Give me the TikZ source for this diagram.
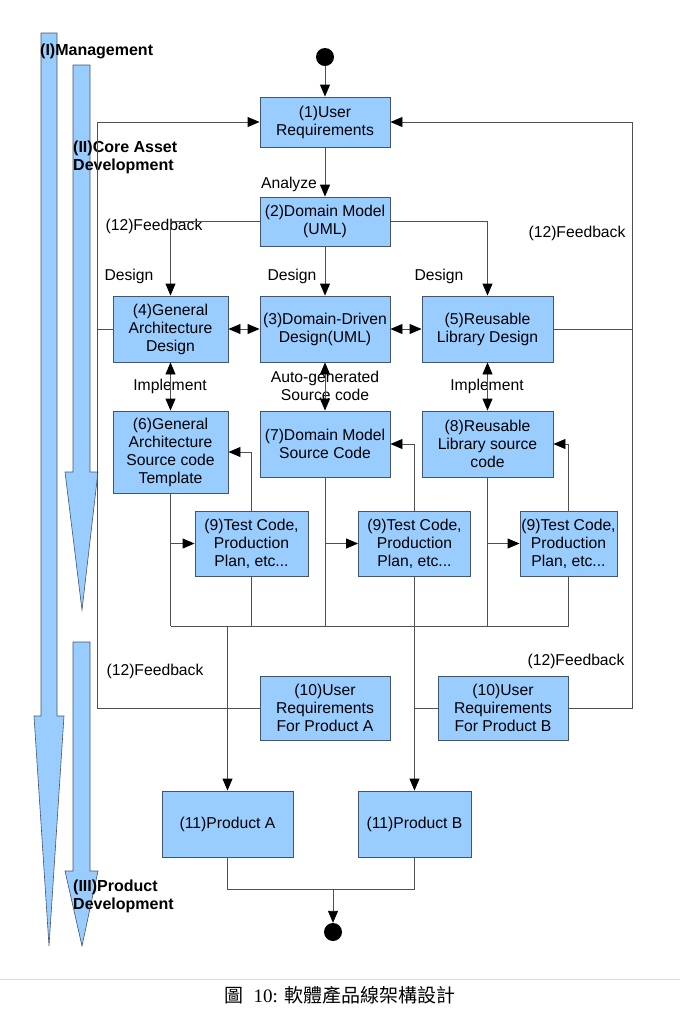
\documentclass[tikz,border=0pt]{standalone}
\usepackage{fontspec}
\setmainfont{Liberation Sans}
\newfontfamily\cjk{Noto Sans CJK TC}
\newfontfamily\capserif{Liberation Serif}
\usetikzlibrary{arrows.meta}
\definecolor{boxfill}{HTML}{99CCFF}
\definecolor{boxline}{HTML}{44546A}
\definecolor{connc}{HTML}{505050}
\tikzset{
  box/.style={draw=boxline, fill=boxfill, line width=0.9pt, align=center, inner sep=0pt,
              font=\fontsize{15.7}{18}\selectfont},
  conn/.style={draw=connc, line width=0.9pt},
  arr/.style={conn, -{Triangle[length=12pt,width=10pt,color=black]}},
  darr/.style={conn, {Triangle[length=12pt,width=10pt,color=black]}-{Triangle[length=12pt,width=10pt,color=black]}},
  lbl/.style={font=\fontsize{15.7}{18}\selectfont, align=center, inner sep=0pt},
  blbl/.style={font=\bfseries\fontsize{16}{18}\selectfont, align=left, inner sep=0pt, anchor=west},
  bigarrow/.style={draw=boxline, fill=boxfill, line width=0.6pt},
  dot/.style={circle, fill=black, minimum size=18pt, inner sep=0pt},
}
\begin{document}
\begin{tikzpicture}[x=1pt,y=-1pt]
\useasboundingbox (0,0) rectangle (680,1013);

% big process arrows
\draw[bigarrow] (41,33) -- (57,33) -- (57,716) -- (64,716) -- (49,946) -- (34,716) -- (41,716) -- cycle;
\draw[bigarrow] (73,65) -- (90,65) -- (90,472) -- (98,472) -- (82,610) -- (65,472) -- (73,472) -- cycle;
\draw[bigarrow] (73,642) -- (90,642) -- (90,871) -- (98,871) -- (82,946) -- (65,871) -- (73,871) -- cycle;

\node[blbl] (lI) at (40,51) {(I)Management};
\node[blbl] (lII) at (73,157) {(II)Core Asset\\Development};
\node[blbl] (lIII) at (73,896) {(III)Product\\Development};

% nodes
\node[dot] (s) at (325,57) {};
\node[box, minimum width=130pt, minimum height=50pt] (b1) at (325,122) {(1)User\\Requirements};
\node[box, minimum width=130pt, minimum height=49pt] (b2) at (325,221.5) {(2)Domain Model\\(UML)};
\node[box, minimum width=115pt, minimum height=66pt] (b4) at (170.5,329) {(4)General\\Architecture\\Design};
\node[box, minimum width=130pt, minimum height=66pt] (b3) at (325,329) {(3)Domain-Driven\\Design(UML)};
\node[box, minimum width=131pt, minimum height=66pt] (b5) at (487.5,329) {(5)Reusable\\Library Design};
\node[box, minimum width=115pt, minimum height=82pt] (b6) at (170.5,452) {(6)General\\Architecture\\Source code\\Template};
\node[box, minimum width=130pt, minimum height=66pt] (b7) at (325,444) {(7)Domain Model\\Source Code};
\node[box, minimum width=131pt, minimum height=66pt] (b8) at (487.5,444) {(8)Reusable\\Library source\\code};
\node[box, minimum width=113pt, minimum height=65pt] (b9a) at (251.5,543.5) {(9)Test Code,\\Production\\Plan, etc...};
\node[box, minimum width=112pt, minimum height=65pt] (b9b) at (414.5,543.5) {(9)Test Code,\\Production\\Plan, etc...};
\node[box, minimum width=97pt, minimum height=65pt] (b9c) at (568.5,543.5) {(9)Test Code,\\Production\\Plan, etc...};
\node[box, minimum width=130pt, minimum height=64pt] (b10a) at (325,708) {(10)User\\Requirements\\For Product A};
\node[box, minimum width=130pt, minimum height=64pt] (b10b) at (503,708) {(10)User\\Requirements\\For Product B};
\node[box, minimum width=131pt, minimum height=66pt] (pA) at (227.5,824) {(11)Product A};
\node[box, minimum width=113pt, minimum height=66pt] (pB) at (414.5,824) {(11)Product B};
\node[dot] (e) at (333,932) {};

% labels
\node[lbl] (tAn) at (289,184) {Analyze};
\node[lbl] (tF1) at (154,226) {(12)Feedback};
\node[lbl] (tF2) at (577,233) {(12)Feedback};
\node[lbl] (tD1) at (129,276) {Design};
\node[lbl] (tD2) at (292,276) {Design};
\node[lbl] (tD3) at (439,276) {Design};
\node[lbl] (tI1) at (170,386) {Implement};
\node[lbl] (tI2) at (487,386) {Implement};
\node[lbl] (tAG) at (325,386) {Auto-generated\\Source code};
\node[lbl] (tF3) at (155,671) {(12)Feedback};
\node[lbl] (tF4) at (576,661) {(12)Feedback};

% helper coordinates
\coordinate (FLt) at (97,122);
\coordinate (FRt) at (632,122);
\coordinate (bus) at (0,626);
\coordinate (J) at (333,889);

% connectors
\draw[arr] (s) -- (b1.north);
\draw[arr] (b1.south) -- (b2.north);
\draw[arr] (b2.west) -| (b4.north);
\draw[arr] (b2.east) -| (b5.north);
\draw[arr] (b2.south) -- (b3.north);
\draw[darr] (b4.east) -- (b3.west);
\draw[darr] (b3.east) -- (b5.west);
\draw[darr] (b4.south) -- (b6.north);
\draw[darr] (b3.south) -- (b7.north);
\draw[darr] (b5.south) -- (b8.north);

\draw[conn] (b6.south) -- (b6.south |- bus);
\draw[arr] (b6.south |- b9a.west) -- (b9a.west);
\draw[arr] (b9a.north) |- (b6.east);
\draw[conn] (b9a.south) -- (b9a.south |- bus);
\draw[conn] (b7.south) -- (b7.south |- bus);
\draw[arr] (b7.south |- b9b.west) -- (b9b.west);
\draw[arr] (b9b.north) |- (b7.east);
\draw[arr] (b9b.south) -- (pB.north);
\draw[conn] (b8.south) -- (b8.south |- bus);
\draw[arr] (b8.south |- b9c.west) -- (b9c.west);
\draw[arr] (b9c.north) |- (b8.east);
\draw[conn] (b9c.south) -- (b9c.south |- bus);
\draw[conn] (b6.south |- bus) -- (b9c.south |- bus);
\draw[arr] (pA.north |- bus) -- (pA.north);

% feedback loops
\draw[conn] (b10a.west) -- (b10a.west -| FLt) -- (FLt);
\draw[arr] (FLt) -- (b1.west);
\draw[conn] (b4.west) -- (b4.west -| FLt);
\draw[conn] (b10b.east) -- (b10b.east -| FRt) -- (FRt);
\draw[arr] (FRt) -- (b1.east);
\draw[conn] (b5.east) -- (b5.east -| FRt);
\draw[conn] (b10b.west) -- (b10b.west -| b9b.south);

% join
\draw[conn] (pA.south) -- (pA.south |- J) -- (pB.south |- J) -- (pB.south);
\draw[arr] (J) -- (e.north);

% caption
\draw[black!15, line width=1pt] (0,979) -- (680,979);
\node[inner sep=0pt, font=\fontsize{19}{22}\selectfont] (cap) at (340,995) {{\cjk 圖}\ \ {\capserif 10:} {\cjk 軟體產品線架構設計}};
\end{tikzpicture}
\end{document}
